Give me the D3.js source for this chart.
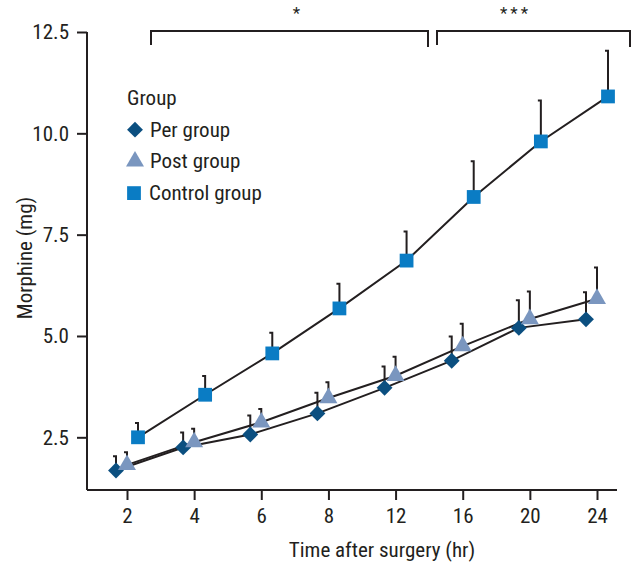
<!DOCTYPE html>
<html>
<head>
<meta charset="utf-8">
<script src="https://cdn.jsdelivr.net/npm/d3@7"></script>
<style>
  html, body { margin: 0; padding: 0; background: #fff; }
  svg { display: block; }
  text { font-family: "Liberation Sans Narrow", "Roboto Condensed", "Arial Narrow", sans-serif; fill: #231f20; }
</style>
</head>
<body>
<svg id="chart" width="634" height="569"></svg>
<script>
// ---- data ----
const categories = ["2", "4", "6", "8", "12", "16", "20", "24"];
const perMean  = [1.68, 2.25, 2.57, 3.09, 3.72, 4.39, 5.20, 5.41];
const perSD    = [0.35, 0.37, 0.47, 0.51, 0.53, 0.60, 0.68, 0.67];
const postMean = [1.82, 2.38, 2.87, 3.47, 4.02, 4.75, 5.42, 5.92];
const postSD   = [0.31, 0.33, 0.33, 0.39, 0.47, 0.55, 0.68, 0.77];
const ctrlMean = [2.50, 3.55, 4.57, 5.68, 6.86, 8.43, 9.80, 10.91];
const ctrlSD   = [0.35, 0.46, 0.51, 0.61, 0.72, 0.88, 1.01, 1.13];
const yTicks = [2.5, 5.0, 7.5, 10.0, 12.5];
const groupNames = ["Per group", "Post group", "Control group"];
const brackets = [
  { from: "2", to: "12", label: "*" },
  { from: "12", to: "24", label: "***" }
];

// ---- setup ----
const svg = d3.select("#chart");
const axisLeft = 87, axisRight = 617, axisBottom = 490, axisTop = 32;
const x = d3.scalePoint().domain(categories).range([127, 597]);
const y = d3.scaleLinear().domain([1.2, 12.5]).range([axisBottom, axisTop]);
const ink = "#231f20";
const fs = 21;

const groups = [
  { name: groupNames[0], mean: perMean, sd: perSD, dx: -11, color: "#0b4f80", shape: d3.symbolDiamond2 },
  { name: groupNames[1], mean: postMean, sd: postSD, dx: 0, color: "#7a96bf", shape: d3.symbolTriangle },
  { name: groupNames[2], mean: ctrlMean, sd: ctrlSD, dx: 11, color: "#0a7cc4", shape: d3.symbolSquare }
];

// ---- axes ----
const yAxis = svg.append("g").attr("transform", `translate(${axisLeft},0)`)
  .call(d3.axisLeft(y).tickValues(yTicks).tickFormat(d3.format(".1f")).tickSize(10).tickPadding(8));
yAxis.select(".domain").attr("d", `M0,${axisBottom}V${y(12.5)}`);
const xAxis = svg.append("g").attr("transform", `translate(0,${axisBottom})`)
  .call(d3.axisBottom(x).tickSize(10).tickPadding(8));
xAxis.select(".domain").attr("d", `M${axisLeft},0H${axisRight}`);
svg.selectAll(".domain, .tick line").attr("stroke", ink).attr("stroke-width", 2);
svg.selectAll(".tick text").attr("font-size", fs).attr("fill", ink)
  .attr("font-family", "'Liberation Sans Narrow', 'Roboto Condensed', 'Arial Narrow', sans-serif");

// axis titles
svg.append("text").attr("x", 382).attr("y", 557).attr("text-anchor", "middle")
  .attr("font-size", fs).text("Time after surgery (hr)");
svg.append("text").attr("transform", `translate(32,258) rotate(-90)`).attr("text-anchor", "middle")
  .attr("font-size", fs).text("Morphine (mg)");

// ---- series ----
const line = d3.line();
groups.forEach(g => {
  const pts = categories.map((c, i) => [x(c) + g.dx, y(g.mean[i])]);
  svg.append("path").attr("d", line(pts)).attr("fill", "none").attr("stroke", ink).attr("stroke-width", 2);
});
groups.forEach(g => {
  categories.forEach((c, i) => {
    const cx = x(c) + g.dx;
    const top = y(g.mean[i] + g.sd[i]);
    svg.append("path")
      .attr("d", `M${cx},${y(g.mean[i])}V${top}h-3`)
      .attr("fill", "none").attr("stroke", ink).attr("stroke-width", 2);
  });
});
const symSize = { "Per group": 160, "Post group": 140, "Control group": 190 };
groups.forEach(g => {
  categories.forEach((c, i) => {
    svg.append("path")
      .attr("d", d3.symbol().type(g.shape).size(symSize[g.name])())
      .attr("transform", `translate(${x(c) + g.dx},${y(g.mean[i])})`)
      .attr("fill", g.color);
  });
});

// ---- significance brackets ----
const bY = 31;
const bSpans = [[151, 428], [437, 630]];
brackets.forEach((b, k) => {
  const [x0, x1] = bSpans[k];
  svg.append("path").attr("d", `M${x0},${bY + 14}V${bY}H${x1}V${bY + 16}`)
    .attr("fill", "none").attr("stroke", ink).attr("stroke-width", 2);
  svg.append("text").attr("x", (x0 + x1) / 2 + (k === 0 ? 7 : -18)).attr("y", 19)
    .attr("text-anchor", "middle").attr("font-size", 17).attr("letter-spacing", k === 1 ? 3 : 0)
    .attr("fill", "#555").text(b.label);
});

// ---- legend ----
const lg = svg.append("g").attr("transform", "translate(127,105)");
lg.append("text").attr("x", 0).attr("y", 0).attr("font-size", fs).text("Group");
groups.forEach((g, i) => {
  const yy = 31.7 * (i + 1);
  lg.append("path").attr("d", d3.symbol().type(g.shape).size(symSize[g.name])())
    .attr("transform", `translate(${i === 2 ? 7 : 8},${yy - 7})`).attr("fill", g.color);
  lg.append("text").attr("x", i === 2 ? 22 : 23).attr("y", yy).attr("font-size", fs).text(g.name);
});
</script>
</body>
</html>
